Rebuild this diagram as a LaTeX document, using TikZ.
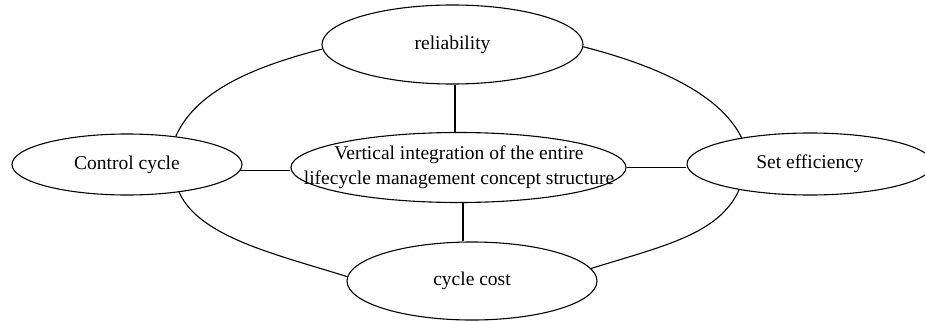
\documentclass[tikz,border=0pt]{standalone}
\usepackage{fontspec}
\setmainfont{Liberation Serif}
\usetikzlibrary{shapes.geometric}
\begin{document}
\begin{tikzpicture}[x=1pt,y=-1pt,
  every node/.style={font=\fontsize{19.5}{25.5}\selectfont},
  oval/.style={ellipse,draw,line width=1.1pt,inner sep=0pt},
  link/.style={line width=1.1pt}]
\useasboundingbox (0,0) rectangle (925,321);
\node[oval,minimum width=261,minimum height=79] (rel) at (452.5,44.5) {reliability};
\node[oval,minimum width=335,minimum height=70] (cen) at (458.5,167.5) {};
\node[align=center] (centxt) at (459,167) {Vertical integration of the entire\\lifecycle management concept structure};
\node[oval,minimum width=230,minimum height=61] (ctrl) at (127,164.5) {Control cycle};
\node[oval,minimum width=246,minimum height=62] (set) at (810,164) {Set efficiency};
\node[oval,minimum width=250,minimum height=78] (cost) at (472,281) {cycle cost};
% spokes
\draw[link] ([xshift=2.5pt]rel.south) -- ([xshift=2.5pt]rel.south |- cen.north);
\draw[link] ([xshift=4.5pt]cen.south) -- ([xshift=4.5pt]cen.south |- cost.north);
\draw[link] (ctrl.-3) -- (ctrl.-3 -| cen.west);
\draw[link] (cen.east) -- (cen.east -| set.west);
% outer ring
\draw[link] (rel.182) .. controls +(-70,18) and +(20,-45) .. (ctrl.30);
\draw[link] (rel.-1) .. controls +(70,18) and +(-22,-45) .. (set.159);
\draw[link] (ctrl.-28) .. controls +(20,45) and +(-70,-22) .. (cost.178);
\draw[link] (cost.6) .. controls +(70,-22) and +(-20,45) .. (set.200);
\end{tikzpicture}
\end{document}
